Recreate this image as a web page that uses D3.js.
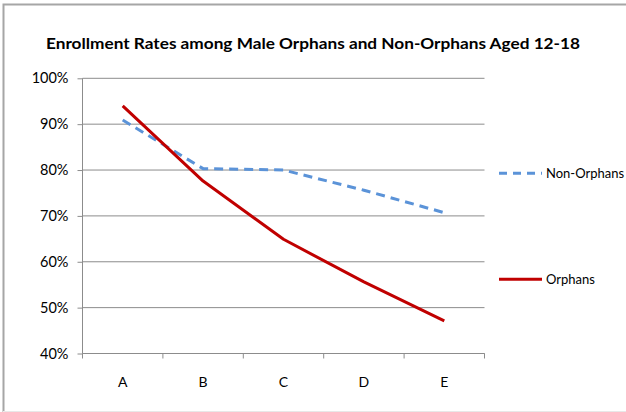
<!DOCTYPE html>
<html lang="en">
<head>
  <meta charset="UTF-8">
  <title>Enrollment Rates</title>
  <style>
    * { margin: 0; padding: 0; }
    body { background: #fff; }
    svg { display: block; font-family: Lato, "Open Sans", sans-serif; }
  </style>
</head>
<body>
  <svg id="svg"></svg>
  <script src="https://cdnjs.cloudflare.com/ajax/libs/d3/7.8.5/d3.min.js"></script>
  <script>
    const categories = ['A', 'B', 'C', 'D', 'E']
    const nonOrphans = [90.9, 80.3, 80.0, 75.6, 70.7]
    const orphans = [94.0, 77.6, 64.9, 55.6, 47.1]
    const yTicks = [40, 50, 60, 70, 80, 90, 100]
    const series = [
      { name: 'Non-Orphans', values: nonOrphans, color: '#5b93d8', dash: '9,6' },
      { name: 'Orphans', values: orphans, color: '#c00000', dash: null }
    ]

    const width = 626, height = 412
    const plot = { left: 82.5, right: 484.5, top: 78.3, bottom: 353.5 }
    const font = 'Lato, "Open Sans", sans-serif'

    const svg = d3.select('#svg')
      .attr('width', width)
      .attr('height', height)

    // outer frame (right edge is cropped in the reference)
    svg.append('path')
      .attr('d', `M3.5,${height} V4.5 H${width}`)
      .attr('fill', 'none')
      .attr('stroke', '#a6a6a6')
      .attr('stroke-width', 2)
    svg.append('line')
      .attr('x1', 3).attr('x2', width)
      .attr('y1', 411.5).attr('y2', 411.5)
      .attr('stroke', '#e8e8e8')

    svg.append('text')
      .attr('x', 313)
      .attr('y', 49)
      .attr('text-anchor', 'middle')
      .attr('font-weight', 'bold')
      .attr('font-size', 16)
      .attr('textLength', 534)
      .attr('lengthAdjust', 'spacingAndGlyphs')
      .text('Enrollment  Rates among  Male Orphans and Non-Orphans  Aged 12-18')

    const x = d3.scaleBand()
      .domain(categories)
      .range([plot.left, plot.right])

    const y = d3.scaleLinear()
      .domain([40, 100])
      .range([plot.bottom, plot.top])

    // gridlines
    svg.append('g')
      .selectAll('line')
      .data(yTicks)
      .join('line')
      .attr('x1', plot.left)
      .attr('x2', plot.right)
      .attr('y1', d => y(d))
      .attr('y2', d => y(d))
      .attr('stroke', '#8c8c8c')
      .attr('stroke-width', 1)

    const yAxis = svg.append('g')
      .attr('transform', `translate(${plot.left},0)`)
      .call(d3.axisLeft(y).tickValues(yTicks).tickSize(5).tickFormat(d => d + '%'))
    yAxis.select('.domain').attr('stroke', '#8c8c8c').attr('d', `M0,${plot.top}V${plot.bottom}`)
    yAxis.selectAll('.tick line').attr('stroke', '#8c8c8c')
    yAxis.selectAll('.tick text')
      .attr('x', -14)
      .style('font-size', '14.5px')
      .style('font-family', font)
      .attr('fill', '#000')

    const xAxis = svg.append('g')
      .attr('transform', `translate(0,${plot.bottom})`)
      .call(d3.axisBottom(x).tickSize(0))
    xAxis.select('.domain').remove()
    xAxis.selectAll('.tick text')
      .attr('y', 33)
      .attr('dy', 0)
      .style('font-size', '14px')
      .style('font-family', font)
      .attr('fill', '#000')
    xAxis.append('path')
      .attr('d', `M${plot.left},0H${plot.right}`)
      .attr('stroke', '#8c8c8c')
    xAxis.selectAll('.band-tick')
      .data([...categories.map(c => x(c)), plot.right])
      .join('line')
      .attr('class', 'band-tick')
      .attr('x1', d => d).attr('x2', d => d)
      .attr('y1', 0).attr('y2', 5)
      .attr('stroke', '#8c8c8c')

    const line = d3.line()
      .x((d, i) => x(categories[i]) + x.bandwidth() / 2)
      .y(d => y(d))

    svg.append('g')
      .selectAll('path')
      .data(series)
      .join('path')
      .attr('d', d => line(d.values))
      .attr('fill', 'none')
      .attr('stroke', d => d.color)
      .attr('stroke-width', 3)
      .attr('stroke-dasharray', d => d.dash)
      .attr('stroke-linejoin', 'round')

    const legendY = { 'Non-Orphans': 173.3, 'Orphans': 279.3 }
    const legend = svg.append('g')
      .selectAll('g')
      .data(series)
      .join('g')
      .attr('transform', d => `translate(499,${legendY[d.name]})`)
    legend.append('line')
      .attr('x1', 0).attr('x2', 43)
      .attr('stroke', d => d.color)
      .attr('stroke-width', 3)
      .attr('stroke-dasharray', d => d.dash ? '8,6' : null)
    legend.append('text')
      .attr('x', 47)
      .attr('dy', '0.35em')
      .attr('font-size', 13)
      .text(d => d.name)
  </script>
</body>
</html>
